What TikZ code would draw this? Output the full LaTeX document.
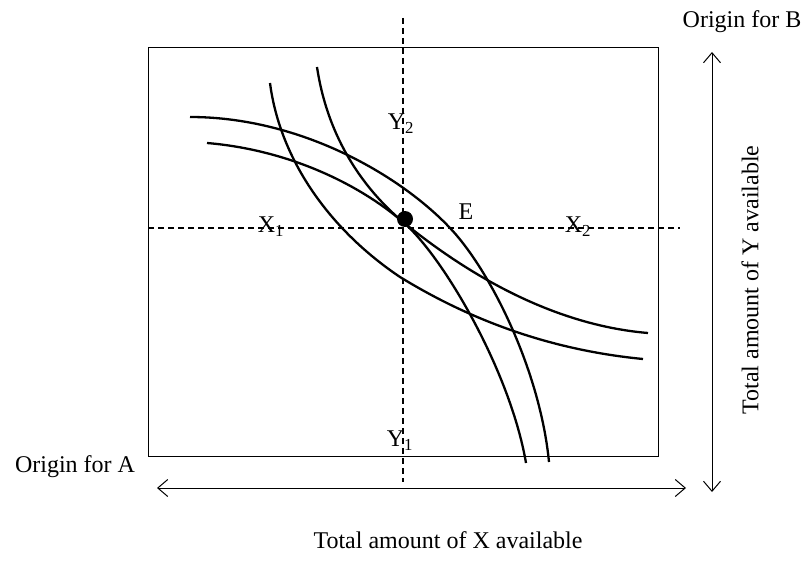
\documentclass[tikz,border=0pt]{standalone}
\usepackage{fontspec}
\setmainfont{Liberation Serif}
\usetikzlibrary{arrows.meta}
\begin{document}
\begin{tikzpicture}[x=1pt,y=-1pt,
  lbl/.style={inner sep=0pt,font=\fontsize{24}{28}\selectfont},
  guide/.style={line width=1.2pt,dash pattern=on 6pt off 4pt},
  curve/.style={line width=2.3pt},
  dbl/.style={line width=1pt,{Straight Barb[length=10pt,width=17pt]}-{Straight Barb[length=10pt,width=17pt]}}]
\useasboundingbox (0,0) rectangle (808,577);
% box
\draw[line width=1pt] (148,48) rectangle (658,456);
% guides
\coordinate (vt) at (403,18);
\coordinate (vb) at (403,482);
\coordinate (hl) at (148,228);
\coordinate (hr) at (680,228);
\draw[guide] (vt) -- (vb);
\draw[guide] (hl) -- (hr);
% curves of B (convex to B's origin)
\draw[curve] (190,117) .. controls (300,117) and (400,175) .. (450,228)
  .. controls (490,270) and (540,370) .. (549,462);
\draw[curve] (207,143) .. controls (290,150) and (360,185) .. (403,222)
  .. controls (442,255) and (510,370) .. (526,463);
% curves of A (convex to A's origin)
\draw[curve] (270,83) .. controls (280,160) and (330,230) .. (400,277)
  .. controls (470,320) and (550,350) .. (643,359);
\draw[curve] (317,67) .. controls (328,140) and (365,190) .. (403,222)
  .. controls (450,260) and (540,324) .. (648,333);
% dot
\fill (405,219) circle (8);
% labels
\node[lbl] (y2) at (401,124) {Y\textsubscript{2}};
\node[lbl] (y1) at (400,441) {Y\textsubscript{1}};
\node[lbl] (x1) at (271,227) {X\textsubscript{1}};
\node[lbl] (x2) at (578,227) {X\textsubscript{2}};
\node[lbl] (e) at (466,212) {E};
\node[lbl] (oa) at (75,467) {Origin for A};
\node[lbl] (ob) at (742,22) {Origin for B};
\node[lbl] (tx) at (448,540) {Total amount of X available};
\node[lbl,rotate=90] (ty) at (750,280) {Total amount of Y available};
% arrows
\coordinate (at) at (712,52);
\coordinate (ab) at (712,492);
\coordinate (al) at (157,488);
\coordinate (ar) at (686,488);
\draw[dbl] (at) -- (ab);
\draw[dbl] (al) -- (ar);
\end{tikzpicture}
\end{document}
